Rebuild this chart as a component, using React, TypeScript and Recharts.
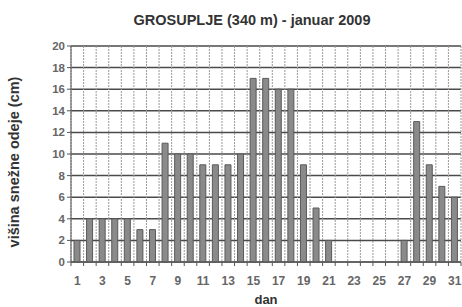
import React from 'react';
import { BarChart, Bar, XAxis, YAxis, CartesianGrid } from 'recharts';

// snow depth per day, January 2009
const days = [1, 2, 3, 4, 5, 6, 7, 8, 9, 10, 11, 12, 13, 14, 15, 16, 17, 18, 19, 20, 21, 22, 23, 24, 25, 26, 27, 28, 29, 30, 31];
const snowDepth = [2, 4, 4, 4, 4, 3, 3, 11, 10, 10, 9, 9, 9, 10, 17, 17, 16, 16, 9, 5, 2, 0, 0, 0, 0, 0, 2, 13, 9, 7, 6];
const labeledDays = [1, 3, 5, 7, 9, 11, 13, 15, 17, 19, 21, 23, 25, 27, 29, 31];
const yTicks = [0, 2, 4, 6, 8, 10, 12, 14, 16, 18, 20];

const data = days.map((day, i) => ({ day, depth: snowDepth[i] }));
// tick marks sit between the days, like in the Excel original
const edges = [...days.map(d => d - 0.5), days[days.length - 1] + 0.5];

const W = 462;
const H = 307;
const FONT = '"Liberation Sans", Arial, sans-serif';

const DayTick = (props: any) => {
  const { x, y, payload, width } = props;
  const half = (width || 390) / days.length / 2;
  const day = payload.value + 0.5;
  if (!labeledDays.includes(day)) return null;
  return (
    <text x={x + half} y={y + 17} textAnchor="middle" fontSize={12} fontWeight="bold" fill="#666" fontFamily={FONT}>
      {day}
    </text>
  );
};

export default function App() {
  return (
    <div style={{ position: 'absolute', left: 0, top: 0, width: W, height: H, background: '#fff', fontFamily: FONT }}>
      <div style={{ position: 'absolute', left: 0, width: W + 42, top: 12, textAlign: 'center', fontSize: 14.5, fontWeight: 'bold', color: '#333' }}>
        GROSUPLJE (340 m) - januar 2009
      </div>
      <div
        style={{
          position: 'absolute', left: 14, top: 162, transform: 'translate(-50%, -50%) rotate(-90deg)',
          whiteSpace: 'nowrap', fontSize: 14.5, fontWeight: 'bold', color: '#333',
        }}
      >
        višina snežne odeje (cm)
      </div>
      <div style={{ position: 'absolute', left: 0, width: W + 70, top: 292, textAlign: 'center', fontSize: 13, fontWeight: 'bold', color: '#333' }}>
        dan
      </div>
      <BarChart width={W} height={H} data={data} margin={{ top: 46, right: 1, left: 0, bottom: 0 }}>
        <CartesianGrid vertical={false} stroke="#4a4a4a" strokeWidth={1.5} />
        <CartesianGrid horizontal={false} stroke="#999" strokeDasharray="2 1" />
        <XAxis
          dataKey="day"
          type="number"
          domain={[0.5, 31.5]}
          ticks={edges}
          interval={0}
          height={45}
          tickSize={4}
          stroke="#555"
          tick={<DayTick />}
        />
        <YAxis
          domain={[0, 20]}
          ticks={yTicks}
          interval={0}
          width={71}
          tickSize={4}
          stroke="#555"
          tick={{ fontSize: 11.5, fontWeight: 'bold', fill: '#666', fontFamily: FONT }}
        />
        <Bar dataKey="depth" barSize={6} fill="#8a8a8a" stroke="#5a5a5a" strokeWidth={1} isAnimationActive={false} />
      </BarChart>
    </div>
  );
}
